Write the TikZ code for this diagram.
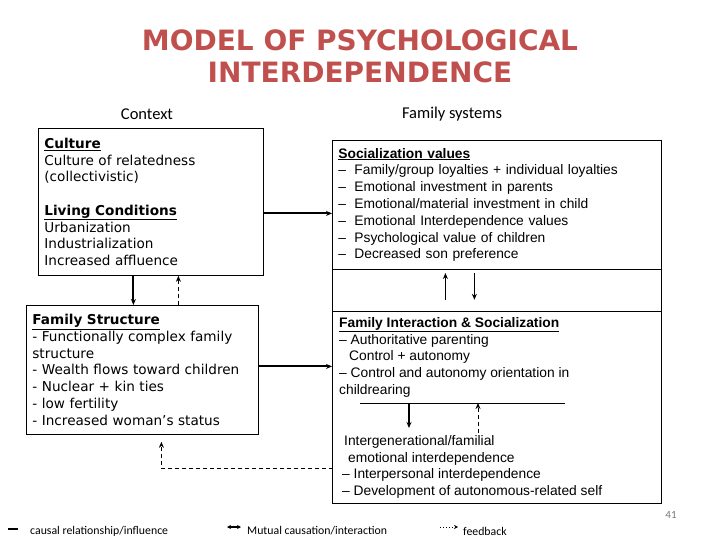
\documentclass[tikz,border=0pt]{standalone}
\usepackage{fontspec}
\setmainfont{DejaVu Sans}
\newfontfamily\verdanafont{DejaVu Sans}
\newfontfamily\arialfont{Liberation Sans}
\newfontfamily\calibrifont{Carlito}
\usetikzlibrary{arrows.meta}
\definecolor{titlered}{RGB}{192,80,77}
\definecolor{pagegray}{RGB}{120,120,120}

\begin{document}
\begin{tikzpicture}[x=1pt, y=-1pt,
        >={Stealth[length=6pt, width=5pt]},
        maintitle/.style={align=center, text=titlered, font=\verdanafont\bfseries\fontsize{28}{32}\selectfont},
        colhead/.style={font=\calibrifont\fontsize{16.5}{19}\selectfont},
        ctxbox/.style={draw, line width=0.8pt, anchor=north west, align=left, inner xsep=6pt, inner ysep=0pt, font=\verdanafont\fontsize{13.6}{16.7}\selectfont},
        sysbox/.style={draw, line width=0.8pt, anchor=north west, minimum width=329pt, inner sep=0pt},
        systext/.style={anchor=north west, align=left, inner sep=0pt, font=\arialfont\fontsize{13.8}{16.8}\selectfont},
        causal/.style={draw, ->, line width=2pt},
        feedback/.style={draw, ->, line width=1pt, dash pattern=on 4pt off 3pt},
        legend/.style={anchor=west, inner sep=0pt, font=\calibrifont\fontsize{11.8}{13}\selectfont}
    ]
    \useasboundingbox (0,0) rectangle (720,540);

    % ==========================================
    % 1. Title & column headings
    % ==========================================
    \node[maintitle] (title) at (360,56) {MODEL OF PSYCHOLOGICAL\\INTERDEPENDENCE};
    \node[colhead] (ctxlabel) at (147,114) {Context};
    \node[colhead] (famlabel) at (452,114) {Family systems};

    % ==========================================
    % 2. Context (left column)
    % ==========================================
    \node[ctxbox, text width=213pt, minimum height=147pt] (context) at (38,128) {%
        \underline{\textbf{Culture}}\\
        Culture of relatedness\\
        (collectivistic)\\[16.7pt]
        \underline{\textbf{Living Conditions}}\\
        Urbanization\\
        Industrialization\\
        Increased affluence};
    \node[ctxbox, text width=220pt, minimum height=129pt] (famstruct) at (26,305) {%
        \underline{\textbf{Family Structure}}\\
        - Functionally complex family\\
        structure\\
        - Wealth flows toward children\\
        - Nuclear + kin ties\\
        - low fertility\\
        - Increased woman’s status};

    % ==========================================
    % 3. Family systems (right column)
    % ==========================================
    \node[sysbox, text width=317pt, inner xsep=6pt, minimum height=129pt, align=left,
          font=\arialfont\fontsize{13.8}{16.8}\selectfont] (socval) at (332,140) {%
        \underline{\textbf{Socialization values}}\\
        \makebox[16pt][l]{–}Family/group loyalties + individual loyalties\\
        \makebox[16pt][l]{–}Emotional investment in parents\\
        \makebox[16pt][l]{–}Emotional/material investment in child\\
        \makebox[16pt][l]{–}Emotional Interdependence values\\
        \makebox[16pt][l]{–}Psychological value of children\\
        \makebox[16pt][l]{–}Decreased son preference};
    \node[sysbox, minimum height=42pt] (gap) at (332,269) {};
    \node[sysbox, minimum height=192pt] (famint) at (332,311) {};

    \node[systext] (famtxt) at (339,317) {%
        \underline{\textbf{Family Interaction \& Socialization}}\\
        – Authoritative parenting\\
        \hspace{10pt}Control + autonomy\\
        – Control and autonomy orientation in\\
        childrearing};
    \node[systext] (emotxt) at (342,435) {%
        \hspace{2pt}Intergenerational/familial\\
        \hspace{6pt}emotional interdependence\\
        – Interpersonal interdependence\\
        – Development of autonomous-related self};

    \coordinate (splitL) at (360,403);
    \coordinate (splitR) at (565,403);
    \draw[line width=0.8pt] (splitL) -- (splitR);

    % ==========================================
    % 4. Connectors
    % ==========================================
    \draw[causal] ([xshift=-17.5pt]context.south) -- ([xshift=-9pt]famstruct.north);
    \draw[feedback] ([xshift=36pt]famstruct.north) -- ([xshift=27.5pt]context.south);

    \coordinate (c2s) at ([yshift=-11.5pt]context.east);
    \draw[causal] (c2s) -- (c2s -| socval.west);
    \coordinate (f2i) at ([yshift=3.5pt]famstruct.east);
    \draw[causal] (f2i) -- (f2i -| famint.west);

    % mutual arrows between values and interaction
    \draw[causal, line width=1.8pt] ([xshift=-51.5pt, yshift=12pt]gap.south) -- ([xshift=-51.5pt, yshift=-4pt]gap.north);
    \draw[causal, line width=1.8pt] ([xshift=-22.5pt, yshift=-4pt]gap.north) -- ([xshift=-22.5pt, yshift=12pt]gap.south);

    \coordinate (d1) at (409,428);
    \coordinate (u1) at (478,433);
    \draw[causal, line width=1.8pt] (d1 |- splitL) -- (d1);
    \draw[feedback] (u1) -- (u1 |- splitL);

    \coordinate (fb) at (333,468);
    \draw[feedback] (fb) -| ([xshift=19pt, yshift=-7pt]famstruct.south);

    % ==========================================
    % 5. Legend
    % ==========================================
    \node[legend] (legcausal) at (30,531) {causal relationship/influence};
    \node[legend] (legmutual) at (247,531) {Mutual causation/interaction};
    \node[legend] (legfb) at (463,531) {feedback};
    \draw[line width=2.5pt] ([xshift=-22pt, yshift=2pt]legcausal.west) -- ([xshift=-12pt, yshift=2pt]legcausal.west);
    \draw[{Stealth[length=4pt, width=4pt]}-{Stealth[length=4pt, width=4pt]}, line width=1.2pt] ([xshift=-20pt, yshift=4pt]legmutual.west) -- ([xshift=-6pt, yshift=4pt]legmutual.west);
    \draw[-{Stealth[length=4pt, width=4pt]}, line width=1pt, dotted] ([xshift=-23pt, yshift=4pt]legfb.west) -- ([xshift=-5pt, yshift=4pt]legfb.west);

    \node[font=\calibrifont\fontsize{11}{13}\selectfont, text=pagegray] (pagenum) at (671,515) {41};

\end{tikzpicture}
\end{document}
